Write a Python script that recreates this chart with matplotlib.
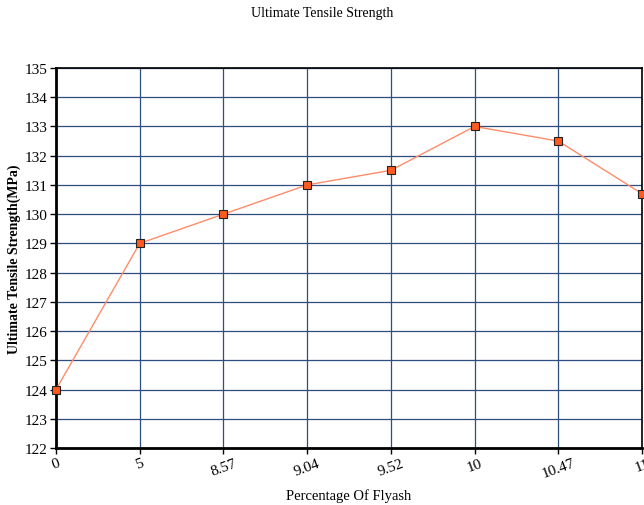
import matplotlib
matplotlib.use("Agg")
import matplotlib.pyplot as plt

categories = ["0", "5", "8.57", "9.04", "9.52", "10", "10.47", "11"]
strength = [124, 129, 130, 131, 131.5, 133, 132.5, 130.7]
y_ticks = list(range(122, 136))

plt.rcParams['font.family'] = ['Liberation Serif', 'DejaVu Serif']

fig = plt.figure(figsize=(6.44, 5.06), dpi=100)
ax = fig.add_axes([56/644, 1 - 449/506, (642-56)/644, (449-69)/506])

x = list(range(len(categories)))
ax.plot(x, strength, color='#ff8c69', linewidth=1.0, zorder=3,
        marker='s', markersize=5.5, markerfacecolor='#ff5a1f',
        markeredgecolor='#222222', markeredgewidth=0.8, clip_on=False)

ax.set_xlim(0, len(categories) - 1)
ax.set_ylim(122, 135)
ax.set_xticks(x)
ax.set_xticklabels(categories, rotation=20, fontsize=11)
ax.set_yticks(y_ticks)
ax.set_yticklabels([str(v) for v in y_ticks], fontsize=11)
ax.grid(True, color='#2b4f7e', linewidth=0.9)
ax.set_axisbelow(True)
for s in ax.spines.values():
    s.set_color('black')
    s.set_linewidth(1.2)
ax.spines['left'].set_linewidth(2)
ax.spines['bottom'].set_linewidth(2)
ax.tick_params(axis='both', length=4, width=1, pad=2)

ax.set_ylabel('Ultimate Tensile Strength(MPa)', fontsize=10, fontweight='bold', labelpad=3)
ax.set_xlabel('Percentage Of Flyash', fontsize=10.5, labelpad=6)
fig.text(0.5, 1 - 14/506, 'Ultimate Tensile Strength', ha='center', va='center', fontsize=10)

fig.savefig('out.png', dpi=100)
